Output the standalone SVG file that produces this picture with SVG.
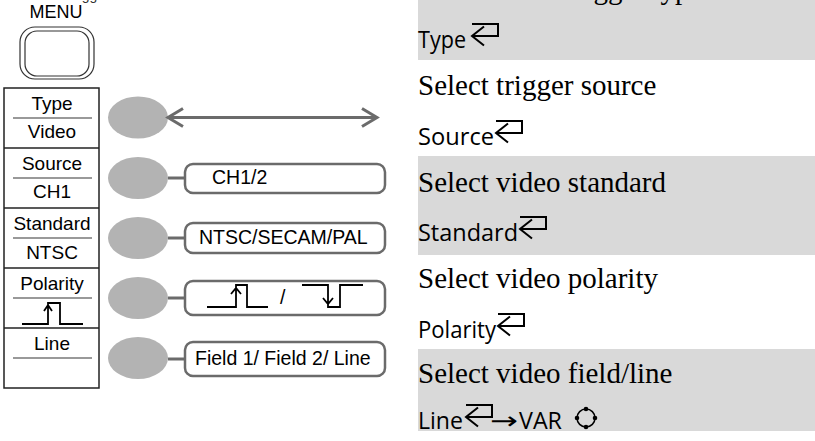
<svg xmlns="http://www.w3.org/2000/svg" xmlns:xlink="http://www.w3.org/1999/xlink" width="815" height="441" viewBox="0 0 815 441">
<defs>
<style>
.lbl{font-family:"Liberation Sans",Arial,sans-serif;font-size:19px;fill:#000;text-anchor:middle}
.btxt{font-family:"Liberation Sans",Arial,sans-serif;font-size:19.5px;fill:#000}
.desc{font-family:"Liberation Serif","Times New Roman",serif;font-size:29px;fill:#000}
.key{font-family:"Open Sans","Noto Sans",sans-serif;font-size:23px;fill:#000}
.band{fill:#d9d9d9}
.div{stroke:#999;stroke-width:2}
.btn{fill:#b3b3b3}
.conn{stroke:#6b6b6b;stroke-width:3;fill:none}
.box{fill:#fff;stroke:#6b6b6b;stroke-width:2.5}
.ico{stroke:#000;stroke-width:1.8;fill:none}
.ret{stroke:#000;stroke-width:2;fill:none}
</style>
<symbol id="enter" overflow="visible">
<path d="M12,-9.5 L0,0 L12,9.5 M0,-12 H26 V0 H0" class="ret"/>
</symbol>
</defs>
<rect width="815" height="441" fill="#fff"/>

<!-- right side bands -->
<rect class="band" x="418" y="0" width="397" height="60"/>
<rect class="band" x="418" y="156" width="397" height="99"/>
<rect class="band" x="418" y="349" width="397" height="82"/>

<g id="top-fragments">
<text x="66" y="0" font-family="Liberation Sans,Arial,sans-serif" font-size="14" fill="#333">Trigger</text>
<text class="desc" x="418" y="-1">Select video trigger type</text>
</g>

<g id="menu-key">
<text x="56" y="18" font-family="Liberation Sans,Arial,sans-serif" font-size="18" text-anchor="middle">MENU</text>
<rect x="20" y="27" width="74" height="52" rx="15" fill="#fff" stroke="#333" stroke-width="1.2"/>
<rect x="25" y="31" width="64" height="45" rx="12" fill="none" stroke="#333" stroke-width="1.2"/>
</g>

<g id="menu-panel">
<rect x="4" y="88" width="95" height="300" fill="#fff" stroke="#222" stroke-width="1.5"/>
<line x1="4" y1="148" x2="99" y2="148" stroke="#222" stroke-width="1.5"/>
<line x1="4" y1="208" x2="99" y2="208" stroke="#222" stroke-width="1.5"/>
<line x1="4" y1="268" x2="99" y2="268" stroke="#222" stroke-width="1.5"/>
<line x1="4" y1="328" x2="99" y2="328" stroke="#222" stroke-width="1.5"/>
<line class="div" x1="13" y1="118" x2="92" y2="118"/>
<line class="div" x1="13" y1="178" x2="92" y2="178"/>
<line class="div" x1="13" y1="238" x2="92" y2="238"/>
<line class="div" x1="13" y1="298" x2="92" y2="298"/>
<line class="div" x1="13" y1="358" x2="92" y2="358"/>
<text class="lbl" x="52" y="110">Type</text>
<text class="lbl" x="52" y="138">Video</text>
<text class="lbl" x="52" y="170">Source</text>
<text class="lbl" x="52" y="198">CH1</text>
<text class="lbl" x="52" y="230">Standard</text>
<text class="lbl" x="52" y="259">NTSC</text>
<text class="lbl" x="52" y="290">Polarity</text>
<path class="ico" d="M22,324 H48 V303 H60 V324 H83 M44,311 L48,305 L52,311"/>
<text class="lbl" x="52" y="350">Line</text>
</g>

<g id="buttons">
<ellipse class="btn" cx="138" cy="117.5" rx="30" ry="21"/>
<ellipse class="btn" cx="138" cy="178" rx="30" ry="21"/>
<ellipse class="btn" cx="138" cy="238" rx="30" ry="21"/>
<ellipse class="btn" cx="138" cy="298" rx="30" ry="21"/>
<ellipse class="btn" cx="138" cy="358" rx="30" ry="21"/>
</g>

<g id="connectors">
<path class="conn" d="M168,117.5 H377 M183,108.5 L168,117.5 L183,126.5 M362,108.5 L377,117.5 L362,126.5"/>
<line class="conn" x1="168" y1="178" x2="186" y2="178"/>
<line class="conn" x1="168" y1="238" x2="186" y2="238"/>
<line class="conn" x1="168" y1="298" x2="186" y2="298"/>
<line class="conn" x1="168" y1="359" x2="186" y2="359"/>
</g>

<g id="opt-source">
<rect class="box" x="185" y="164" width="200" height="29" rx="8"/>
<text class="btxt" x="212" y="184">CH1/2</text>
</g>
<g id="opt-standard">
<rect class="box" x="185" y="223" width="200" height="30" rx="8"/>
<text class="btxt" x="199" y="244">NTSC/SECAM/PAL</text>
</g>
<g id="opt-polarity">
<rect class="box" x="185" y="281" width="200" height="34" rx="8"/>
<path class="ico" d="M207,307 H236 V285 H247 V307 H268 M231,294 L236,288 L241,294"/>
<text class="btxt" x="280" y="304">/</text>
<path class="ico" d="M302,285 H328 V307 H340 V285 H363 M323,298 L328,304 L333,298"/>
</g>
<g id="opt-line">
<rect class="box" x="185" y="342" width="200" height="34" rx="8"/>
<text class="btxt" x="195" y="365">Field 1/ Field 2/ Line</text>
</g>

<g id="row-type">
<text class="key" x="418" y="48" textLength="48" lengthAdjust="spacingAndGlyphs">Type</text>
<use xlink:href="#enter" x="472" y="36"/>
</g>
<g id="row-source">
<text class="desc" x="418" y="95">Select trigger source</text>
<text class="key" x="418" y="145" textLength="76" lengthAdjust="spacingAndGlyphs">Source</text>
<use xlink:href="#enter" x="496" y="133"/>
</g>
<g id="row-standard">
<text class="desc" x="418" y="192">Select video standard</text>
<text class="key" x="418" y="241" textLength="100" lengthAdjust="spacingAndGlyphs">Standard</text>
<use xlink:href="#enter" x="520" y="229"/>
</g>
<g id="row-polarity">
<text class="desc" x="418" y="288">Select video polarity</text>
<text class="key" x="418" y="338" textLength="78" lengthAdjust="spacingAndGlyphs">Polarity</text>
<use xlink:href="#enter" x="498" y="326"/>
</g>
<g id="row-line">
<text class="desc" x="418" y="383">Select video field/line</text>
<text class="key" x="418" y="429" textLength="45" lengthAdjust="spacingAndGlyphs">Line</text>
<use xlink:href="#enter" x="466" y="417"/>
<text class="key" y="429"><tspan x="490" font-family="DejaVu Sans,sans-serif" font-size="24" textLength="28" lengthAdjust="spacingAndGlyphs">→</tspan><tspan x="519" textLength="43" lengthAdjust="spacingAndGlyphs">VAR</tspan></text>
<g class="ico">
<circle cx="586" cy="418" r="9" stroke-width="1.5"/>
<circle cx="586" cy="409" r="1.4" fill="#000"/>
<circle cx="586" cy="427" r="1.4" fill="#000"/>
<circle cx="577" cy="418" r="1.4" fill="#000"/>
<circle cx="595" cy="418" r="1.4" fill="#000"/>
</g>
</g>
</svg>
